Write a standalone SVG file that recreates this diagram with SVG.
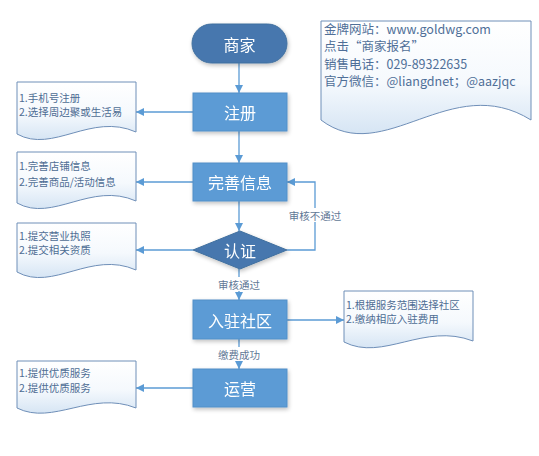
<svg xmlns="http://www.w3.org/2000/svg" width="539" height="456" viewBox="0 0 539 456">
<style>
text{font-family:"Noto Sans CJK SC","Microsoft YaHei",sans-serif}
.box{fill:#5b9bd5;stroke:#5590c8;stroke-width:1}
.dark{fill:#4677ae;stroke:#41709f;stroke-width:1}
.lbl{fill:#fff;font-size:16px;text-anchor:middle;dominant-baseline:central}
.doc{fill:url(#dg);stroke:#6f8fb8;stroke-width:1}
.dt{fill:#4e6d94;font-size:10.5px}
.it{fill:#4f6f98;font-size:12.5px}
.con{fill:none;stroke:#5b9bd5;stroke-width:1.3}
.cl{fill:#5f7896;font-size:10.5px;text-anchor:middle;dominant-baseline:central}
.bg{fill:#fff}
</style>
<defs>
<linearGradient id="dg" x1="0" y1="0" x2="0" y2="1">
<stop offset="0" stop-color="#ffffff"/>
<stop offset="0.55" stop-color="#f5f9fd"/>
<stop offset="1" stop-color="#d6e5f4"/>
</linearGradient>
<filter id="sh" x="-20%" y="-20%" width="140%" height="150%">
<feGaussianBlur in="SourceAlpha" stdDeviation="2"/>
<feOffset dx="1" dy="2"/>
<feComponentTransfer><feFuncA type="linear" slope="0.25"/></feComponentTransfer>
<feMerge><feMergeNode/><feMergeNode in="SourceGraphic"/></feMerge>
</filter>
<marker id="ah" viewBox="0 0 10 10" refX="10" refY="5" markerWidth="8" markerHeight="8" markerUnits="userSpaceOnUse" orient="auto">
<path d="M0,0 L10,5 L0,10 Z" fill="#5b9bd5"/>
</marker>
</defs>

<g id="connectors">
<line class="con" x1="239" y1="63" x2="239" y2="93" marker-end="url(#ah)"/>
<line class="con" x1="239" y1="131" x2="239" y2="163" marker-end="url(#ah)"/>
<line class="con" x1="239" y1="201" x2="239" y2="231" marker-end="url(#ah)"/>
<line class="con" x1="239" y1="269" x2="239" y2="300" marker-end="url(#ah)"/>
<line class="con" x1="239" y1="339" x2="239" y2="369" marker-end="url(#ah)"/>
<polyline class="con" points="287,250 315,250 315,182 287,182" marker-end="url(#ah)"/>
<line class="con" x1="193" y1="112" x2="136" y2="112" marker-end="url(#ah)"/>
<line class="con" x1="193" y1="182" x2="136" y2="182" marker-end="url(#ah)"/>
<line class="con" x1="193" y1="250" x2="136" y2="250" marker-end="url(#ah)"/>
<line class="con" x1="287" y1="320" x2="344" y2="320" marker-end="url(#ah)"/>
<line class="con" x1="193" y1="388" x2="136" y2="388" marker-end="url(#ah)"/>
<rect class="bg" x="215" y="277" width="48" height="14"/>
<text class="cl" x="239" y="284">审核通过</text>
<rect class="bg" x="288" y="208" width="55" height="14"/>
<text class="cl" x="315" y="215">审核不通过</text>
<rect class="bg" x="215" y="347" width="48" height="14"/>
<text class="cl" x="239" y="354">缴费成功</text>
</g>

<g id="merchant" filter="url(#sh)">
<rect class="dark" x="192" y="24" width="95" height="39" rx="19.5"/>
<text class="lbl" x="239.5" y="43.5">商家</text>
</g>
<g id="register" filter="url(#sh)">
<rect class="box" x="193" y="93" width="94" height="38"/>
<text class="lbl" x="240" y="112">注册</text>
</g>
<g id="complete-info" filter="url(#sh)">
<rect class="box" x="193" y="163" width="94" height="38"/>
<text class="lbl" x="240" y="182">完善信息</text>
</g>
<g id="verify" filter="url(#sh)">
<polygon class="dark" points="240,231 287,250 240,269 193,250"/>
<text class="lbl" x="240" y="250">认证</text>
</g>
<g id="join-community" filter="url(#sh)">
<rect class="box" x="193" y="300" width="94" height="39"/>
<text class="lbl" x="240" y="320">入驻社区</text>
</g>
<g id="operate" filter="url(#sh)">
<rect class="box" x="193" y="369" width="94" height="38"/>
<text class="lbl" x="240" y="388">运营</text>
</g>

<g id="doc-register">
<path class="doc" d="M17,82 H136 V132 C91,112 53,154 17,134 Z"/>
<text class="dt" x="19" y="102">1.手机号注册</text>
<text class="dt" x="19" y="116">2.选择周边聚或生活易</text>
</g>
<g id="doc-info">
<path class="doc" d="M17,152 H136 V201 C91,181 53,223 17,203 Z"/>
<text class="dt" x="19" y="170">1.完善店铺信息</text>
<text class="dt" x="19" y="186">2.完善商品/活动信息</text>
</g>
<g id="doc-verify">
<path class="doc" d="M17,223 H136 V270 C91,250 53,292 17,272 Z"/>
<text class="dt" x="19" y="240">1.提交营业执照</text>
<text class="dt" x="19" y="254">2.提交相关资质</text>
</g>
<g id="doc-community">
<path class="doc" d="M344,291 H473 V341 C424,322 383,362 344,342 Z"/>
<text class="dt" x="346" y="309">1.根据服务范围选择社区</text>
<text class="dt" x="346" y="323">2.缴纳相应入驻费用</text>
</g>
<g id="doc-operate">
<path class="doc" d="M17,361 H136 V408 C91,390 53,426 17,408 Z"/>
<text class="dt" x="19" y="377">1.提供优质服务</text>
<text class="dt" x="19" y="392">2.提供优质服务</text>
</g>
<g id="doc-contact">
<path class="doc" d="M321,21 H531 V120 C451,70 384,168 321,120 Z"/>
<text class="it" x="324" y="33.5">金牌网站：www.goldwg.com</text>
<text class="it" x="324" y="51">点击“商家报名”</text>
<text class="it" x="324" y="68.5">销售电话：029-89322635</text>
<text class="it" x="324" y="86">官方微信：@liangdnet；@aazjqc</text>
</g>
</svg>
